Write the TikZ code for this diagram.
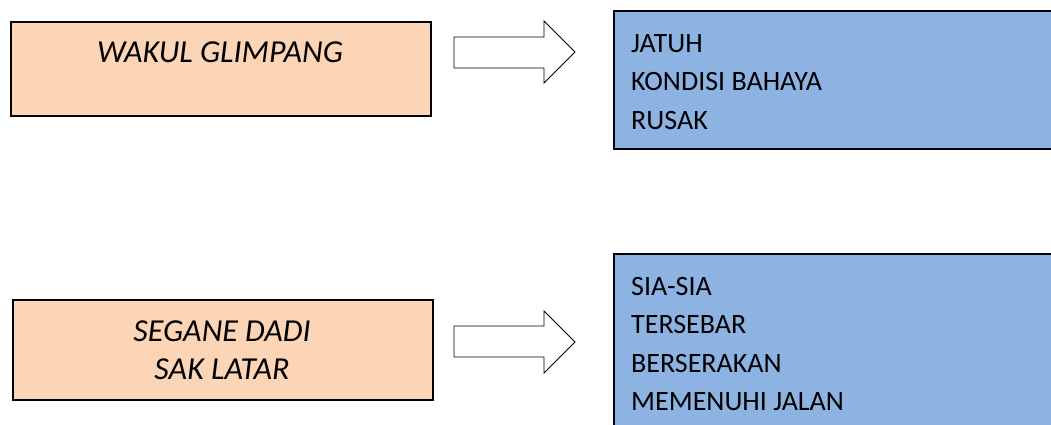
\documentclass[tikz,border=0pt]{standalone}
\usepackage{fontspec}
\setmainfont{Carlito}
\definecolor{peach}{HTML}{FBD5B5}
\definecolor{skyblue}{HTML}{8DB3E2}
\tikzset{
  srcbox/.style={draw=black, line width=1.5pt, fill=peach, minimum width=420pt, anchor=north west, inner sep=0pt},
  dstbox/.style={draw=black, line width=1.5pt, fill=skyblue, minimum width=460pt, anchor=north west, inner sep=0pt},
  srctext/.style={font=\fontsize{32}{38}\selectfont\itshape, align=center, inner sep=0pt, anchor=base},
  dsttext/.style={font=\fontsize{28}{38.5}\selectfont, align=left, inner sep=0pt, anchor=base west},
  blockarrow/.style={draw=black, line width=0.9pt, fill=white, line join=miter}
}
\begin{document}
\begin{tikzpicture}[x=1pt,y=-1pt]
\useasboundingbox (0,0) rectangle (1051,424);
\clip (0,0) rectangle (1051,424);
% source boxes
\node[srcbox, minimum height=94pt] (b1) at (10,21) {};
\node[srcbox, minimum height=100pt] (b3) at (12,299) {};
\node[srctext] (t1) at (220,62.5) {WAKUL GLIMPANG};
\node[srctext] (t3a) at (222,341) {SEGANE DADI};
\node[srctext] (t3b) at (222,379) {SAK LATAR};
% destination boxes
\node[dstbox, minimum height=138pt] (b2) at (613,10) {};
\node[dstbox, minimum height=200pt] (b4) at (613,253) {};
% base anchor of a multi-line node is the baseline of its last line
\node[dsttext] (t2) at (631,129) {JATUH\\KONDISI BAHAYA\\RUSAK};
\node[dsttext] (t4) at (631,410.5) {SIA-SIA\\TERSEBAR\\BERSERAKAN\\MEMENUHI JALAN};
% block arrows
\draw[blockarrow] (454,37) -- (544,37) -- (544,21) -- (575,52) -- (544,83) -- (544,68) -- (454,68) -- cycle;
\draw[blockarrow] (454,326) -- (544,326) -- (544,311) -- (575,342) -- (544,373) -- (544,357) -- (454,357) -- cycle;
\end{tikzpicture}
\end{document}
